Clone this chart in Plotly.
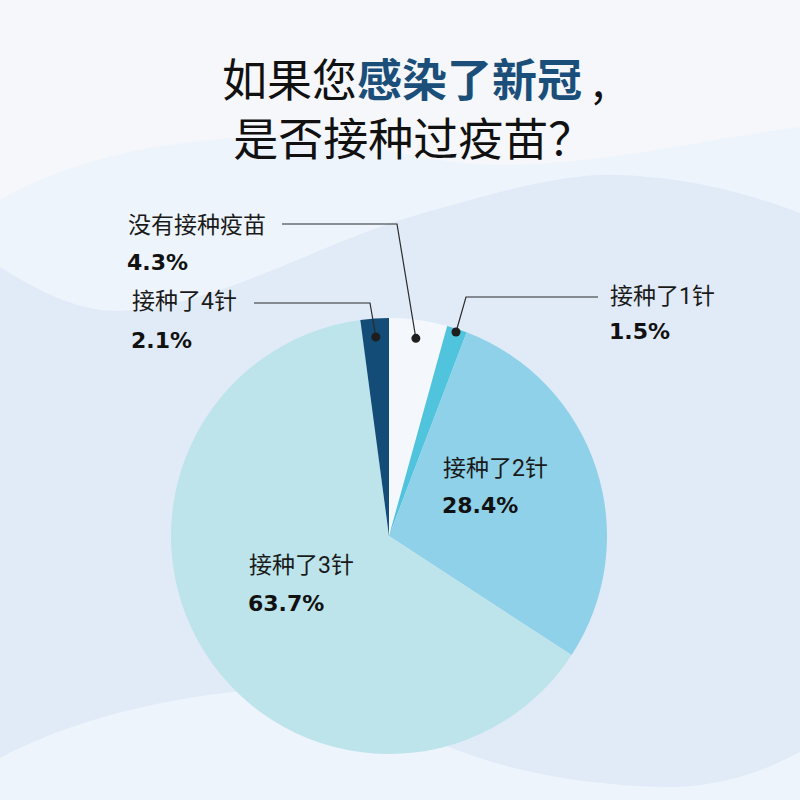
import math
import plotly.graph_objects as go

# ---- data ----
categories = ["没有接种疫苗", "接种了1针", "接种了2针", "接种了3针", "接种了4针"]
values = [4.3, 1.5, 28.4, 63.7, 2.1]
slice_colors = ["#f4f8fd", "#50c4dd", "#8fd1e8", "#bce4ea", "#134c76"]
title_line1_plain = "如果您"
title_line1_bold = "感染了新冠"
title_line1_end = " ,"
title_line2 = "是否接种过疫苗？"

W = H = 800
FONT = "Roboto, Noto Sans CJK SC"
PCT_FONT = "DejaVu Sans, Roboto"
TITLE_FONT = "Noto Sans CJK SC"

def px(x):
    return x / W

def py(y):
    return 1 - y / H

def path_px(cmds):
    out = []
    for c in cmds:
        if isinstance(c, str):
            out.append(c)
        else:
            out.append(f"{px(c[0]):.5f},{py(c[1]):.5f}")
    return " ".join(out)

# pie geometry (style)
cx, cy, R = 389, 536, 218
dom_x = [px(cx - R), px(cx + R)]
dom_y = [py(cy + R), py(cy - R)]

fig = go.Figure()
fig.add_trace(go.Pie(
    labels=categories, values=values, sort=False, direction="clockwise",
    rotation=0, marker=dict(colors=slice_colors, line=dict(width=0)),
    textinfo="none", hoverinfo="label+value", showlegend=False,
    domain=dict(x=dom_x, y=dom_y),
))

shapes = []
# background decoration
mid_path = path_px(["M", (0, 200), "C", (60, 165), (150, 140), (260, 137),
                    "C", (360, 135), (420, 165), (500, 165),
                    "C", (600, 165), (700, 140), (800, 127),
                    "L", (800, 800), "L", (0, 800), "Z"])
band_path = path_px(["M", (0, 267), "C", (40, 292), (80, 312), (120, 311),
                     "C", (220, 306), (320, 242), (420, 214),
                     "C", (500, 192), (560, 173), (620, 175),
                     "C", (700, 178), (760, 198), (800, 213),
                     "L", (800, 752),
                     "C", (740, 784), (690, 790), (637, 786),
                     "C", (560, 781), (500, 768), (444, 745),
                     "C", (400, 722), (360, 690), (310, 688),
                     "C", (200, 688), (80, 715), (0, 758), "Z"])
shapes.append(dict(type="path", path=mid_path, xref="paper", yref="paper",
                   fillcolor="#eef4fc", line=dict(width=0), layer="below"))
shapes.append(dict(type="path", path=band_path, xref="paper", yref="paper",
                   fillcolor="#e1ebf7", line=dict(width=0), layer="below"))

# dots located at slice mid-angles
cum = 0
total = sum(values)
dot_pos = {}
dot_rfrac = {"没有接种疫苗": 0.915, "接种了1针": 0.985, "接种了4针": 0.915}
for cat, v in zip(categories, values):
    mid = (cum + v / 2) / total * 2 * math.pi
    cum += v
    if cat in dot_rfrac:
        r = R * dot_rfrac[cat]
        dot_pos[cat] = (cx + r * math.sin(mid), cy - r * math.cos(mid))

# leader lines: (start point, elbow point) per category (style)
leaders = {
    "没有接种疫苗": [(282, 224), (397, 224)],
    "接种了4针": [(254, 303), (370, 303)],
    "接种了1针": [(598, 297), (466, 297)],
}
for cat, pts in leaders.items():
    dx, dy = dot_pos[cat]
    p = path_px(["M", pts[0], "L", pts[1], "L", (dx, dy)])
    shapes.append(dict(type="path", path=p, xref="paper", yref="paper",
                       line=dict(color="#2b2b2b", width=1.2), layer="above"))
    rr = 4.5
    shapes.append(dict(type="circle", xref="paper", yref="paper",
                       x0=px(dx - rr), x1=px(dx + rr), y0=py(dy + rr), y1=py(dy - rr),
                       fillcolor="#1e1e1e", line=dict(width=0), layer="above"))

# labels (positions are style)
label_pos = {
    "没有接种疫苗": (128, 225, 262),
    "接种了4针": (132, 302, 340),
    "接种了1针": (610, 296, 331),
    "接种了2针": (443, 468, 506),
    "接种了3针": (249, 565, 603),
}
annotations = []
for cat, v in zip(categories, values):
    x, y1, y2 = label_pos[cat]
    annotations.append(dict(x=px(x - 1), y=py(y1), xref="paper", yref="paper",
                            text=cat, showarrow=False, xanchor="left", yanchor="middle",
                            font=dict(family=FONT, size=23, color="#1a1a1a"), borderpad=0))
    annotations.append(dict(x=px(x - 2), y=py(y2), xref="paper", yref="paper",
                            text=f"<b>{v}%</b>", showarrow=False, xanchor="left", yanchor="middle",
                            font=dict(family=PCT_FONT, size=22, color="#111111"), borderpad=0))

annotations.append(dict(
    x=px(413), y=py(107), xref="paper", yref="paper", showarrow=False,
    xanchor="center", yanchor="middle", align="center",
    text=(f"{title_line1_plain}<b><span style='color:#1b4f7a'>{title_line1_bold}</span></b>"
          f"{title_line1_end}<br>{title_line2}"),
    font=dict(family=TITLE_FONT, size=45, color="#111111")))

fig.update_layout(
    width=W, height=H, margin=dict(l=0, r=0, t=0, b=0),
    paper_bgcolor="#f5f7fb", plot_bgcolor="#f5f7fb",
    shapes=shapes, annotations=annotations,
)
fig.write_html("out.html", config={"displayModeBar": False},
               post_script="document.body.style.margin='0';document.body.style.padding='0';")
